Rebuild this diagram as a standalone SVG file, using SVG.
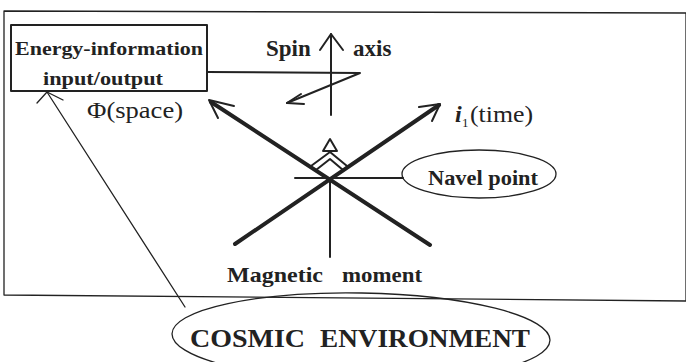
<svg xmlns="http://www.w3.org/2000/svg" width="686" height="362" viewBox="0 0 686 362">
<style>
.ln{fill:none;stroke:#222;stroke-linecap:round;stroke-linejoin:round}
.thin{stroke-width:1.3}
.med{stroke-width:2}
.thick{stroke-width:4}
</style>
<rect width="686" height="362" fill="#fff"/>
<g id="frame"><polygon class="ln thin" points="4,11 686,13 686,301 4,295"/></g>
<g id="connectors">
  <line class="ln med" x1="331" y1="34" x2="331" y2="115"/>
  <polyline class="ln med" points="320,50 331,34 343,50"/>
  <polyline class="ln med" points="207,72 360,73 287,103"/>
  <polyline class="ln med" points="301,94 287,103 304,104"/>
  <line class="ln thick" x1="235" y1="244" x2="439" y2="105"/>
  <polyline class="ln med" points="419,107 440,104 432,121"/>
  <line class="ln thick" x1="430" y1="245" x2="211" y2="102"/>
  <polyline class="ln med" points="234,106 209,100 218,118"/>
  <line class="ln med" x1="295" y1="178" x2="403" y2="178"/>
  <line class="ln med" x1="330" y1="178" x2="330" y2="257"/>
  <polygon class="ln med" points="330,139 323,151 337,151"/>
  <polyline class="ln med" points="311,166 330,152 347,166"/>
  <polyline class="ln med" points="316,170 330,159 343,170"/>
  <line class="ln thin" x1="185" y1="307" x2="47" y2="92"/>
  <polyline class="ln thin" points="37,103 47,92 63,100"/>
</g>
<g id="energy-box">
  <rect class="ln med" x="11" y="25" width="196" height="66"/>
  <text font-family="Liberation Serif, serif" font-weight="bold" fill="#222" x="15" y="55" font-size="19" textLength="188" lengthAdjust="spacingAndGlyphs">Energy-information</text>
  <text font-family="Liberation Serif, serif" font-weight="bold" fill="#222" x="43" y="85" font-size="19" textLength="120" lengthAdjust="spacingAndGlyphs">input/output</text>
</g>
<g id="labels">
  <text font-family="Liberation Serif, serif" font-weight="bold" fill="#222" x="266" y="56" font-size="23">Spin</text>
  <text font-family="Liberation Serif, serif" font-weight="bold" fill="#222" x="353" y="56" font-size="23">axis</text>
  <text font-family="Liberation Serif, serif" fill="#222" x="87" y="118" font-size="24" textLength="96" lengthAdjust="spacingAndGlyphs">Φ(space)</text>
  <text font-family="Liberation Serif, serif" font-weight="bold" font-style="italic" fill="#222" x="455" y="122" font-size="24">i</text>
  <text font-family="Liberation Serif, serif" fill="#222" x="462" y="127" font-size="13">1</text>
  <text font-family="Liberation Serif, serif" fill="#222" x="470" y="122" font-size="24" textLength="63" lengthAdjust="spacingAndGlyphs">(time)</text>
  <text font-family="Liberation Serif, serif" font-weight="bold" fill="#222" x="227" y="282" font-size="22" textLength="96" lengthAdjust="spacingAndGlyphs">Magnetic</text>
  <text font-family="Liberation Serif, serif" font-weight="bold" fill="#222" x="342" y="282" font-size="22" textLength="80" lengthAdjust="spacingAndGlyphs">moment</text>
</g>
<g id="navel-point">
  <ellipse class="ln thin" cx="479" cy="174" rx="77" ry="24"/>
  <text font-family="Liberation Serif, serif" font-weight="bold" fill="#222" x="428" y="185" font-size="21" textLength="110" lengthAdjust="spacingAndGlyphs">Navel point</text>
</g>
<g id="cosmic-environment">
  <ellipse class="ln thin" cx="361" cy="337" rx="189" ry="44" transform="rotate(1 361 337)"/>
  <text font-family="Liberation Serif, serif" font-weight="bold" fill="#222" x="190" y="347" font-size="26" textLength="115" lengthAdjust="spacingAndGlyphs">COSMIC</text>
  <text font-family="Liberation Serif, serif" font-weight="bold" fill="#222" x="320" y="347" font-size="26" textLength="210" lengthAdjust="spacingAndGlyphs">ENVIRONMENT</text>
</g>
</svg>
